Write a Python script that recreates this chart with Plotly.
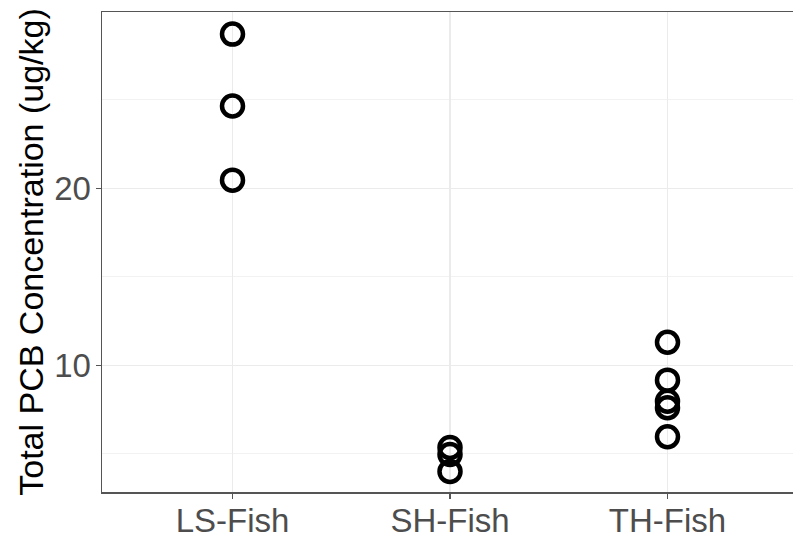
import plotly.graph_objects as go

categories = ["LS-Fish", "SH-Fish", "TH-Fish"]
ls_values = [28.72, 24.66, 20.47]
sh_values = [5.37, 4.97, 4.01]
th_values = [11.31, 9.17, 7.98, 7.61, 5.97]

x = [categories[0]] * len(ls_values) + [categories[1]] * len(sh_values) + [categories[2]] * len(th_values)
y = ls_values + sh_values + th_values

fig = go.Figure()
fig.add_trace(go.Scatter(
    x=x, y=y, mode="markers",
    marker=dict(symbol="circle-open", size=21, color="black", line=dict(width=4.5, color="black")),
    showlegend=False, cliponaxis=False,
))

font_family = "Liberation Sans, Arial, sans-serif"
fig.update_layout(
    width=900, height=534,
    margin=dict(l=102, r=0, t=12, b=42, pad=0),
    paper_bgcolor="white", plot_bgcolor="white",
    font=dict(family=font_family),
    xaxis=dict(
        type="category", categoryorder="array", categoryarray=categories,
        range=[-0.6, 3.069], automargin=False,
        showgrid=True, gridcolor="#EBEBEB", gridwidth=1.2,
        showline=True, linecolor="#555555", linewidth=1.5, mirror=True,
        ticks="outside", ticklen=5, tickcolor="#555555", tickwidth=1.5,
        ticklabelstandoff=-6,
        tickfont=dict(size=33, color="#4D4D4D"),
        zeroline=False, fixedrange=True,
    ),
    yaxis=dict(
        range=[2.85, 29.97], automargin=False,
        tickvals=[10, 20], ticktext=["10", "20"],
        showgrid=True, gridcolor="#EBEBEB", gridwidth=1.5,
        minor=dict(tickvals=[5, 15, 25], showgrid=True, gridcolor="#F2F2F2", gridwidth=1, ticks=""),
        showline=True, linecolor="#555555", linewidth=1.5,
        ticks="outside", ticklen=5, tickcolor="#555555", tickwidth=1.5,
        ticklabelstandoff=-2,
        tickfont=dict(size=33, color="#4D4D4D"),
        title=dict(text="Total PCB Concentration (ug/kg)", font=dict(size=34, color="black"), standoff=0),
        zeroline=False, fixedrange=True,
    ),
)

fig.write_html("out.html", config={"displayModeBar": False, "staticPlot": True},
               post_script=("document.body.style.margin='0';document.body.style.overflow='hidden';"
                            "document.documentElement.style.overflow='hidden';"))
